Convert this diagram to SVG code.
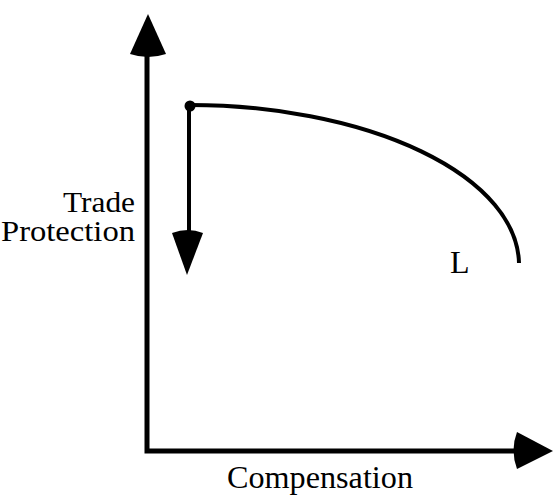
<svg xmlns="http://www.w3.org/2000/svg" width="554" height="498" viewBox="0 0 554 498">
<style>
.ax{stroke:#000;stroke-width:5;fill:none}
.cv{stroke:#000;stroke-width:4;fill:none}
.hd{fill:#000;stroke:none}
text{font-family:'Liberation Serif','Times New Roman',serif;font-size:29px;fill:#000}
</style>
<rect width="554" height="498" fill="#fff"/>
<g id="connectors">
<path class="ax" d="M147,40 V451 H520"/>
<path id="y-head" class="hd" d="M148,14 L130,54 Q148,60 166,54 Z"/>
<path id="x-head" class="hd" d="M553,451 L517,432 Q510,450 517,469 Z"/>
<path class="cv" d="M189,107 V240"/>
<path id="down-head" class="hd" d="M187,275 L172,233 Q188,227 203,233 Z"/>
</g>
<g id="curve-L">
<path class="cv" d="M190,105 A330,160 0 0 1 519,263"/>
<circle cx="190" cy="106" r="5.5" fill="#000"/>
<text x="450" y="273" style="font-size:32px">L</text>
</g>
<g id="labels">
<text x="63" y="212" textLength="72" lengthAdjust="spacingAndGlyphs">Trade</text>
<text x="1" y="241" textLength="134" lengthAdjust="spacingAndGlyphs">Protection</text>
<text x="227" y="488" textLength="186" lengthAdjust="spacingAndGlyphs" style="font-size:31px">Compensation</text>
</g>
</svg>
